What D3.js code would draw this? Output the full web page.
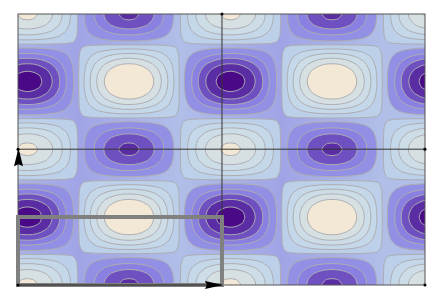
<!DOCTYPE html>
<html>
<head>
<meta charset="utf-8">
<script src="https://cdn.jsdelivr.net/npm/d3@7"></script>
<style>
    html, body { margin: 0; padding: 0; background: #fff; }
    svg { display: block; }
</style>
</head>
<body>
<div id="graph-container"></div>
<script>
// wave read across one period in x (starts on a light peak), 32 samples
const colWave = [1.000, 0.981, 0.924, 0.831, 0.707, 0.556, 0.383, 0.195,
    0.000, -0.195, -0.383, -0.556, -0.707, -0.831, -0.924, -0.981,
    -1.000, -0.981, -0.924, -0.831, -0.707, -0.556, -0.383, -0.195,
    0.000, 0.195, 0.383, 0.556, 0.707, 0.831, 0.924, 0.981]

// wave read across one period in y, 24 samples: big lobe 1, small lobe -0.76
const rowWave = [1.000, 0.970, 0.882, 0.742, 0.560, 0.348, 0.120, -0.108,
    -0.320, -0.502, -0.642, -0.730, -0.760, -0.730, -0.642, -0.502,
    -0.320, -0.108, 0.120, 0.348, 0.560, 0.742, 0.882, 0.970]

const levels = [-0.9, -0.72, -0.54, -0.36, -0.14, 0.015, 0.18, 0.36, 0.54, 0.72]
const bandColors = ["#4a0a88", "#5a2da5", "#6f50c0", "#8a80e2", "#9190e5", "url(#channel)",
    "#bdd0ea", "#c5d8ea", "#cddde8", "#d6e0e3", "#f3e8d6"]
const channelColors = ["#a0a4e6", "#b0bee8"]

// plot window, in periods
const xDomain = [-0.5468, 1.4581]
const yDomain = [-0.4967, 1.5004]
const crossX = 0.458
const crossY = 0.4996
const boxX = [-0.5468, 0.458]
const boxY = [0.9993, 1.5004]
const channelDark = [-0.25, 0.75]   // where the middle band is darkest
const channelLight = [-0.75, 0.25, 1.25]
const dots = [[-0.5468, 0.4996], [0.458, -0.4967], [1.4581, 0.4996], [1.4581, 1.5004], [-0.5468, 1.5004]]

const width = 437
const height = 298

const x = d3.scaleLinear().domain(xDomain).range([18, 425])
const y = d3.scaleLinear().domain(yDomain).range([14, 285])

// sample window a bit wider than the plot so the rings close outside of it
const colIdx = d3.range(-19, 49)
const rowIdx = d3.range(-13, 39)
const mod = (a, n) => ((a % n) + n) % n

const values = []
for (const r of rowIdx) {
    for (const c of colIdx) {
        values.push(colWave[mod(c, colWave.length)] * rowWave[mod(r, rowWave.length)])
    }
}

const contours = d3.contours()
    .size([colIdx.length, rowIdx.length])
    .thresholds(levels)(values)

// contour coordinates have grid value i sitting at i + 0.5
const px = c => x((c - 0.5 + colIdx[0]) / colWave.length)
const py = r => y((r - 0.5 + rowIdx[0]) / rowWave.length)

const ring = d3.line()
    .x(d => px(d[0]))
    .y(d => py(d[1]))
    .curve(d3.curveCatmullRomClosed.alpha(0.5))

const contourPath = d => d.coordinates
    .map(poly => poly.map(r => ring(r.slice(0, -1))).join(""))
    .join("")

const svg = d3.create("svg")
    .attr("width", width)
    .attr("height", height)
    .attr("viewBox", [0, 0, width, height])

const defs = svg.append("defs")

defs.append("clipPath").attr("id", "plot")
    .append("rect")
    .attr("x", x(xDomain[0]))
    .attr("y", y(yDomain[0]))
    .attr("width", x(xDomain[1]) - x(xDomain[0]))
    .attr("height", y(yDomain[1]) - y(yDomain[0]))

const stops = channelDark.map(v => [v, channelColors[0]])
    .concat(channelLight.map(v => [v, channelColors[1]]))
    .sort((a, b) => a[0] - b[0])

defs.append("linearGradient")
    .attr("id", "channel")
    .attr("gradientUnits", "userSpaceOnUse")
    .attr("x1", x(stops[0][0]))
    .attr("x2", x(stops[stops.length - 1][0]))
    .attr("y1", 0)
    .attr("y2", 0)
    .selectAll("stop")
    .data(stops)
    .join("stop")
    .attr("offset", d => (d[0] - stops[0][0]) / (stops[stops.length - 1][0] - stops[0][0]))
    .attr("stop-color", d => d[1])

const plot = svg.append("g").attr("clip-path", "url(#plot)")

plot.append("rect")
    .attr("x", x(xDomain[0]))
    .attr("y", y(yDomain[0]))
    .attr("width", x(xDomain[1]) - x(xDomain[0]))
    .attr("height", y(yDomain[1]) - y(yDomain[0]))
    .attr("fill", bandColors[0])

// filled bands, lowest first
plot.append("g")
    .selectAll("path")
    .data(contours)
    .join("path")
    .attr("d", contourPath)
    .attr("fill", (d, i) => bandColors[i + 1])

plot.append("g")
    .attr("fill", "none")
    .attr("stroke", "#adadb2")
    .attr("stroke-width", 1)
    .selectAll("path")
    .data(contours)
    .join("path")
    .attr("d", contourPath)

// frame and the two cross lines
svg.append("rect")
    .attr("x", x(xDomain[0]))
    .attr("y", y(yDomain[0]))
    .attr("width", x(xDomain[1]) - x(xDomain[0]))
    .attr("height", y(yDomain[1]) - y(yDomain[0]))
    .attr("fill", "none")
    .attr("stroke", "#555")
    .attr("stroke-width", 1)

svg.append("line")
    .attr("x1", x(xDomain[0])).attr("x2", x(xDomain[1]))
    .attr("y1", y(crossY)).attr("y2", y(crossY))
    .attr("stroke", "#333").attr("stroke-width", 1)

svg.append("line")
    .attr("x1", x(crossX)).attr("x2", x(crossX))
    .attr("y1", y(yDomain[0])).attr("y2", y(yDomain[1]))
    .attr("stroke", "#333").attr("stroke-width", 1)

// grey box
svg.append("rect")
    .attr("x", x(boxX[0]))
    .attr("y", y(boxY[0]))
    .attr("width", x(boxX[1]) - x(boxX[0]))
    .attr("height", y(boxY[1]) - y(boxY[0]))
    .attr("fill", "none")
    .attr("stroke", "#808080")
    .attr("stroke-width", 4)

svg.append("line")
    .attr("x1", x(boxX[0])).attr("x2", x(boxX[1]))
    .attr("y1", y(boxY[1])).attr("y2", y(boxY[1]))
    .attr("stroke", "#222").attr("stroke-width", 1)

// arrow heads along the box edge and the left edge
const tipX = x(boxX[1])
const tipY = y(boxY[1])
svg.append("path")
    .attr("d", `M${tipX + 1},${tipY} L${tipX - 17},${tipY - 4} L${tipX - 15},${tipY} L${tipX - 17},${tipY + 4} Z`)
    .attr("fill", "#000")

const upX = x(xDomain[0]) + 0.5
const upY = y(crossY)
svg.append("path")
    .attr("d", `M${upX},${upY - 1} L${upX - 4.5},${upY + 17} L${upX},${upY + 15} L${upX + 4.5},${upY + 17} Z`)
    .attr("fill", "#000")

svg.append("g")
    .selectAll("circle")
    .data(dots)
    .join("circle")
    .attr("cx", d => x(d[0]))
    .attr("cy", d => y(d[1]))
    .attr("r", 1.5)
    .attr("fill", "#000")

document.getElementById("graph-container").appendChild(svg.node())
</script>
</body>
</html>
